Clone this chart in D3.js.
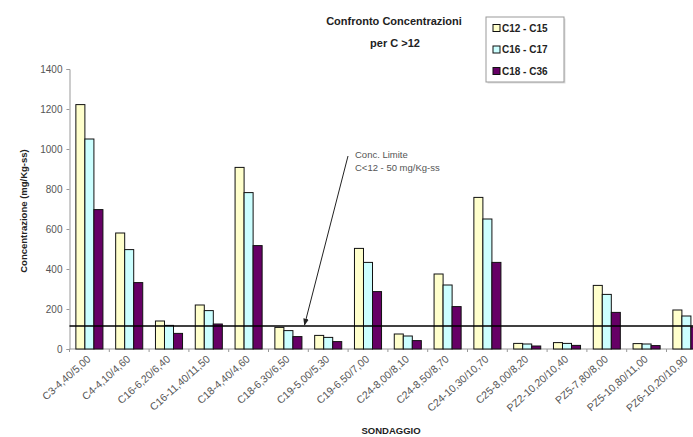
<!DOCTYPE html>
<html>
<head>
<meta charset="utf-8">
<script src="https://cdn.jsdelivr.net/npm/d3@7"></script>
<style>
  html, body { margin: 0; padding: 0; background: #fff; }
  svg { display: block; font-family: Arial, "Liberation Sans", sans-serif; }
</style>
</head>
<body>
<svg id="chart" width="693" height="437"></svg>
<script>
// Sampling points (sondaggi) and depth intervals
const categories = [
  "C3-4,40/5,00", "C4-4,10/4,60", "C16-6,20/6,40", "C16-11,40/11,50",
  "C18-4,40/4,60", "C18-6,30/6,50", "C19-5,00/5,30", "C19-6,50/7,00",
  "C24-8,00/8,10", "C24-8,50/8,70", "C24-10,30/10,70", "C25-8,00/8,20",
  "PZ2-10,20/10,40", "PZ5-7,80/8,00", "PZ5-10,80/11,00", "PZ6-10,20/10,90"
];

// Concentrations (mg/Kg-ss) per hydrocarbon fraction
const c12_c15 = [1222, 580, 140, 220, 908, 108, 68, 503, 75, 375, 758, 28, 32, 318, 27, 195];
const c16_c17 = [1050, 497, 118, 192, 782, 92, 58, 433, 65, 320, 650, 25, 28, 273, 25, 165];
const c18_c36 = [697, 332, 78, 125, 517, 62, 37, 287, 42, 212, 433, 15, 18, 183, 17, 110];

const seriesNames = ["C12 - C15", "C16 - C17", "C18 - C36"];
const seriesColors = ["#FFFFCC", "#CCFFFF", "#660066"];
const yTicks = [0, 200, 400, 600, 800, 1000, 1200, 1400];
const limitValue = 115;

const svg = d3.select("#chart");
const plotLeft = 69.5, plotTop = 69, plotBottom = 349;
const bandW = 39.8;

const x = d3.scaleBand()
  .domain(categories)
  .range([plotLeft, plotLeft + bandW * categories.length])
  .paddingInner(0.32)
  .paddingOuter(0.16);

const x1 = d3.scaleBand().domain(seriesNames).range([0, x.bandwidth()]);

const y = d3.scaleLinear().domain([0, 1400]).range([plotBottom, plotTop]);

// Y axis
const yAxis = d3.axisLeft(y).tickValues(yTicks).tickFormat(d3.format("d"))
  .tickSize(3).tickPadding(4);
const gy = svg.append("g").attr("transform", `translate(${plotLeft},0)`).call(yAxis);
gy.select(".domain").attr("stroke", "#999");
gy.selectAll(".tick line").attr("stroke", "#999");
gy.selectAll(".tick text").attr("fill", "#555").attr("font-size", 10)
  .attr("font-family", "Arial, 'Liberation Sans', sans-serif");

// X axis with ticks at category boundaries
const gx = svg.append("g").attr("transform", `translate(0,${plotBottom})`);
gx.append("line").attr("x1", plotLeft).attr("x2", 693).attr("stroke", "#999");
categories.forEach((c, i) => {
  const bx = plotLeft + bandW * i;
  gx.append("line").attr("x1", bx).attr("x2", bx).attr("y1", 0).attr("y2", 3).attr("stroke", "#999");
});

// Bars
const data = [c12_c15, c16_c17, c18_c36];
const groups = svg.append("g").selectAll("g")
  .data(categories)
  .join("g")
  .attr("transform", d => `translate(${x(d)},0)`);

groups.selectAll("rect")
  .data((d, i) => seriesNames.map((s, k) => ({ s, k, v: data[k][i] })))
  .join("rect")
  .attr("x", d => x1(d.s))
  .attr("y", d => y(d.v))
  .attr("width", x1.bandwidth())
  .attr("height", d => plotBottom - y(d.v))
  .attr("fill", d => seriesColors[d.k])
  .attr("stroke", "#111")
  .attr("stroke-width", 1);

// Category labels
svg.append("g").selectAll("text")
  .data(categories)
  .join("text")
  .attr("transform", d => `translate(${x(d) + x.bandwidth() / 2 + 2},${plotBottom + 11}) rotate(-42)`)
  .attr("text-anchor", "end")
  .attr("font-size", 10.5)
  .attr("fill", "#555")
  .text(d => d);

// Limit line
svg.append("line")
  .attr("x1", plotLeft).attr("x2", 693)
  .attr("y1", y(limitValue)).attr("y2", y(limitValue))
  .attr("stroke", "#000").attr("stroke-width", 1.3);

// Annotation arrow
svg.append("defs").append("marker")
  .attr("id", "arrow").attr("viewBox", "0 0 10 10")
  .attr("refX", 9).attr("refY", 5)
  .attr("markerWidth", 7).attr("markerHeight", 7)
  .attr("orient", "auto")
  .append("path").attr("d", "M0,1 L10,5 L0,9 Z").attr("fill", "#222");

svg.append("line")
  .attr("x1", 348).attr("y1", 156)
  .attr("x2", 304.5).attr("y2", y(limitValue) - 1)
  .attr("stroke", "#222").attr("stroke-width", 1)
  .attr("marker-end", "url(#arrow)");

svg.append("text").attr("x", 355).attr("y", 158)
  .attr("font-size", 9.5).attr("fill", "#555").text("Conc. Limite");
svg.append("text").attr("x", 355).attr("y", 171)
  .attr("font-size", 9.5).attr("fill", "#555").text("C<12 - 50 mg/Kg-ss");

// Titles
svg.append("text").attr("x", 394).attr("y", 25).attr("text-anchor", "middle")
  .attr("font-size", 11).attr("font-weight", "bold").attr("fill", "#222")
  .text("Confronto Concentrazioni");
svg.append("text").attr("x", 395).attr("y", 47).attr("text-anchor", "middle")
  .attr("font-size", 11).attr("font-weight", "bold").attr("fill", "#222")
  .text("per C >12");

svg.append("text")
  .attr("transform", "translate(27,211) rotate(-90)")
  .attr("text-anchor", "middle")
  .attr("font-size", 9.5).attr("font-weight", "bold").attr("fill", "#222")
  .text("Concentrazione (mg/Kg-ss)");

svg.append("text").attr("x", 391).attr("y", 434).attr("text-anchor", "middle")
  .attr("font-size", 9.5).attr("font-weight", "bold").attr("fill", "#222")
  .text("SONDAGGIO");

// Legend
const lg = svg.append("g").attr("transform", "translate(486,17)");
lg.append("rect").attr("x", 1.5).attr("y", 1.5).attr("width", 78).attr("height", 65)
  .attr("fill", "#ddd");
lg.append("rect").attr("width", 78).attr("height", 65)
  .attr("fill", "#fff").attr("stroke", "#999");
seriesNames.forEach((s, k) => {
  const ly = 11 + k * 21.5;
  lg.append("rect").attr("x", 7).attr("y", ly - 3.5).attr("width", 7).attr("height", 7)
    .attr("fill", seriesColors[k]).attr("stroke", "#111");
  lg.append("text").attr("x", 16).attr("y", ly + 3.5)
    .attr("font-size", 10).attr("font-weight", "bold").attr("fill", "#222").text(s);
});
</script>
</body>
</html>
